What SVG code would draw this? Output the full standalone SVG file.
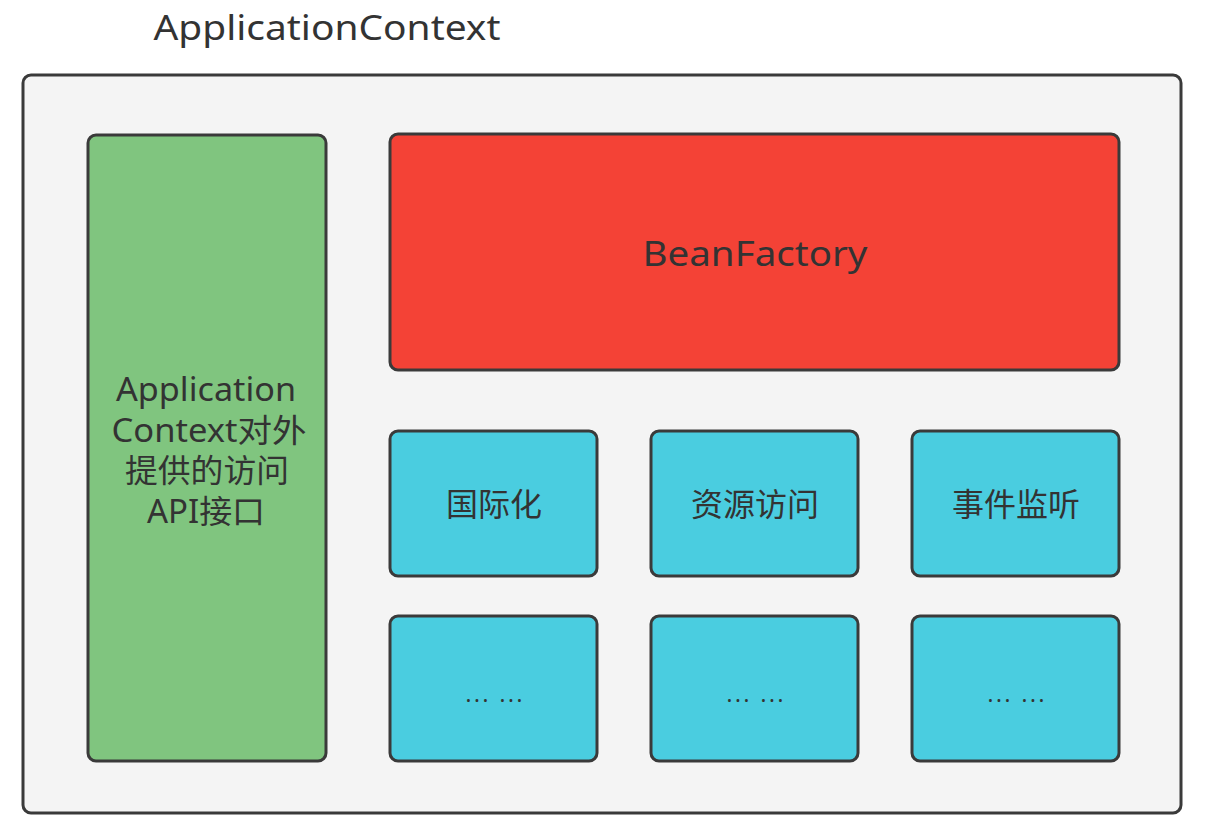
<svg xmlns="http://www.w3.org/2000/svg" width="1206" height="834" viewBox="0 0 1206 834">
<style>
.box{stroke:#3a3a3a;stroke-width:3}
.t{font-family:"Noto Sans","Noto Sans CJK SC",sans-serif;fill:#333;text-anchor:middle;dominant-baseline:central}
.cyan{fill:#4acde0}
.dots{font-size:22px}
</style>
<rect width="1206" height="834" fill="#ffffff"/>
<g id="title"><text class="t" x="327" y="26" font-size="35" textLength="347" lengthAdjust="spacingAndGlyphs">ApplicationContext</text></g>
<g id="outer"><rect class="box" x="23" y="75" width="1158" height="738" rx="8" fill="#f4f4f4"/></g>
<g id="api">
<rect class="box" x="88" y="135" width="238" height="626" rx="8" fill="#80c57f"/>
<text class="t" font-size="32"><tspan x="206" y="388" textLength="180" lengthAdjust="spacingAndGlyphs">Application</tspan><tspan x="209" y="429" textLength="195" lengthAdjust="spacingAndGlyphs">Context对外</tspan><tspan x="207" y="469" textLength="164" lengthAdjust="spacingAndGlyphs">提供的访问</tspan><tspan x="206" y="510" textLength="118" lengthAdjust="spacingAndGlyphs">API接口</tspan></text>
</g>
<g id="beanfactory">
<rect class="box" x="390" y="134" width="729" height="236" rx="8" fill="#f44236"/>
<text class="t" x="755" y="252" font-size="35" textLength="225" lengthAdjust="spacingAndGlyphs">BeanFactory</text>
</g>
<g id="i18n"><rect class="box cyan" x="390" y="431" width="207" height="145" rx="8"/><text class="t" x="494" y="503" font-size="32">国际化</text></g>
<g id="resource"><rect class="box cyan" x="651" y="431" width="207" height="145" rx="8"/><text class="t" x="755" y="503" font-size="32">资源访问</text></g>
<g id="event"><rect class="box cyan" x="912" y="431" width="207" height="145" rx="8"/><text class="t" x="1016" y="503" font-size="32">事件监听</text></g>
<g id="more1"><rect class="box cyan" x="390" y="616" width="207" height="145" rx="8"/><text class="t dots" x="494" y="693" textLength="57">... ...</text></g>
<g id="more2"><rect class="box cyan" x="651" y="616" width="207" height="145" rx="8"/><text class="t dots" x="755" y="693" textLength="57">... ...</text></g>
<g id="more3"><rect class="box cyan" x="912" y="616" width="207" height="145" rx="8"/><text class="t dots" x="1016" y="693" textLength="57">... ...</text></g>
<g id="connectors"></g>
</svg>
